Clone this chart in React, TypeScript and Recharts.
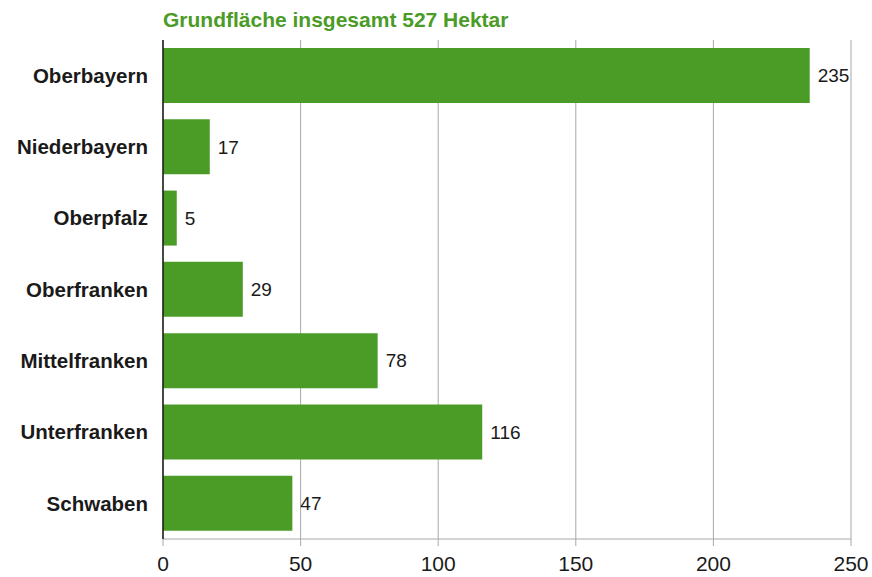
import { Bar, BarChart, CartesianGrid, LabelList, XAxis, YAxis } from 'recharts'

const regions = ['Oberbayern', 'Niederbayern', 'Oberpfalz', 'Oberfranken', 'Mittelfranken', 'Unterfranken', 'Schwaben']
const hectares = [235, 17, 5, 29, 78, 116, 47]
const xTicks = [0, 50, 100, 150, 200, 250]
const title = 'Grundfläche insgesamt 527 Hektar'

const GREEN = '#4b9b27'
const FONT = '"Liberation Sans", Arial, Helvetica, sans-serif'

const data = regions.map((name, i) => ({ name, value: hectares[i] }))

export default function App() {
  return (
    <div style={{ position: 'absolute', left: 0, top: 0, width: 872, height: 577, background: '#fff', fontFamily: FONT }}>
      <div
        style={{
          position: 'absolute',
          left: 163,
          top: 8,
          fontSize: 21,
          fontWeight: 700,
          color: GREEN,
          lineHeight: '24px',
          whiteSpace: 'nowrap',
        }}
      >
        {title}
      </div>
      <BarChart
        width={872}
        height={577}
        data={data}
        layout="vertical"
        margin={{ top: 40, right: 21, bottom: 4, left: 0 }}
        barCategoryGap={8}
      >
        <CartesianGrid horizontal={false} stroke="#a8a8a8" strokeWidth={1} />
        <XAxis
          type="number"
          domain={[0, 250]}
          ticks={xTicks}
          height={34}
          axisLine={{ stroke: '#a8a8a8' }}
          tickLine={{ stroke: '#a8a8a8' }}
          tickSize={7}
          tickMargin={10}
          tick={{ fill: '#1a1a1a', fontSize: 21, fontFamily: FONT }}
        />
        <YAxis
          type="category"
          dataKey="name"
          width={163}
          axisLine={{ stroke: '#1a1a1a', strokeWidth: 1.5 }}
          tickLine={false}
          tickMargin={9}
          tick={{ fill: '#1a1a1a', fontSize: 20.5, fontWeight: 700, fontFamily: FONT }}
        />
        <Bar dataKey="value" fill={GREEN} isAnimationActive={false}>
          <LabelList dataKey="value" position="right" offset={8} fill="#1a1a1a" fontSize={19} fontFamily={FONT} />
        </Bar>
      </BarChart>
    </div>
  )
}
